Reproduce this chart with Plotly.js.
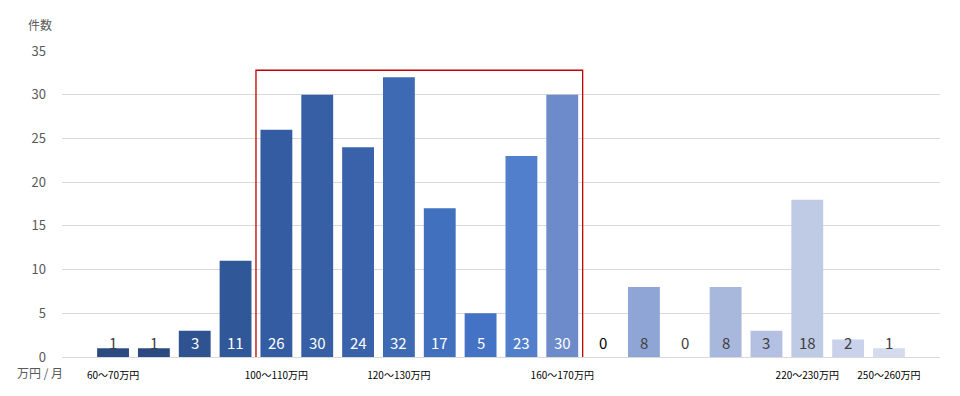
<!DOCTYPE html>
<html>
<head>
<meta charset="utf-8">
<script src="https://cdn.plot.ly/plotly-3.0.1.min.js"></script>
<style>html,body{margin:0;padding:0;background:#fff;}#chart{width:960px;height:396px;}</style>
</head>
<body>
<div id="chart"></div>
<script>
// ---- data ----
const positions = [0,1,2,3,4,5,6,7,8,9,10,11,12,13,14,15,16,17,18,19];
const counts = [1,1,3,11,26,30,24,32,17,5,23,30,0,8,0,8,3,18,2,1];
const tickLabels = ["60〜70万円","","","","100〜110万円","","","120〜130万円","","","","160〜170万円","","","","","","220〜230万円","","250〜260万円"];
const barColors = ["#2c4a82","#2c4a82","#2f5291","#305798","#345ca2","#365fa6","#3962aa","#3e69b3","#4170bf","#4472c4","#527fcb","#6d8acb","#8aa0d2","#8fa5d5","#9fb0da","#a8b7dc","#b4c0e1","#bfcae5","#cad1ea","#d5dbee"];
const labelColors = ["#404040","#404040","#ffffff","#ffffff","#ffffff","#ffffff","#ffffff","#ffffff","#ffffff","#ffffff","#ffffff","#ffffff","#000000","#404040","#404040","#404040","#404040","#404040","#404040","#404040"];
const yTicks = [0,5,10,15,20,25,30,35];

const font = '"Noto Sans CJK JP", "Noto Sans", sans-serif';

const trace = {
  type: 'bar',
  x: positions,
  y: counts,
  marker: {color: barColors, line: {width: 0}},
  width: 0.78,
  hoverinfo: 'skip'
};

const valueAnnotations = positions.map((p, i) => ({
  x: p, y: 0, xref: 'x', yref: 'y',
  text: String(counts[i]),
  showarrow: false,
  yanchor: 'bottom',
  yshift: 2,
  font: {family: font, size: 15, color: labelColors[i]}
}));

const layout = {
  width: 960, height: 396,
  margin: {l: 62, r: 20, t: 51, b: 39},
  paper_bgcolor: '#ffffff',
  plot_bgcolor: '#ffffff',
  showlegend: false,
  bargap: 0.2,
  font: {family: font},
  xaxis: {
    range: [-1.25, 20.25],
    tickmode: 'array',
    tickvals: positions,
    ticktext: tickLabels,
    tickangle: 0,
    showgrid: false,
    zeroline: false,
    showline: false,
    ticks: '',
    ticklabelstandoff: 11,
    tickfont: {family: font, size: 10, color: '#000000'},
    fixedrange: true
  },
  yaxis: {
    range: [0, 35],
    tickmode: 'array',
    tickvals: yTicks,
    ticktext: yTicks.map(String),
    showgrid: true,
    gridcolor: '#d9d9d9',
    gridwidth: 1,
    zeroline: true,
    zerolinecolor: '#d9d9d9',
    zerolinewidth: 1,
    showline: false,
    ticks: '',
    ticklabelstandoff: 15,
    tickfont: {family: font, size: 13, color: '#595959'},
    fixedrange: true
  },
  shapes: [{
    type: 'rect', xref: 'x', yref: 'y',
    x0: 3.5, x1: 11.5, y0: -0.8, y1: 32.8,
    line: {color: '#c00000', width: 1.3},
    fillcolor: 'rgba(0,0,0,0)'
  }],
  annotations: valueAnnotations.concat([
    {xref: 'paper', yref: 'paper', x: -0.025, y: 1.085, xanchor: 'center', yanchor: 'middle',
     text: '件数', showarrow: false, font: {family: font, size: 12, color: '#595959'}},
    {xref: 'paper', yref: 'paper', x: -0.025, y: -0.052, xanchor: 'center', yanchor: 'middle',
     text: '万円 / 月', showarrow: false, font: {family: font, size: 12, color: '#595959'}}
  ])
};

Plotly.newPlot('chart', [trace], layout, {displayModeBar: false, staticPlot: true});
</script>
</body>
</html>
